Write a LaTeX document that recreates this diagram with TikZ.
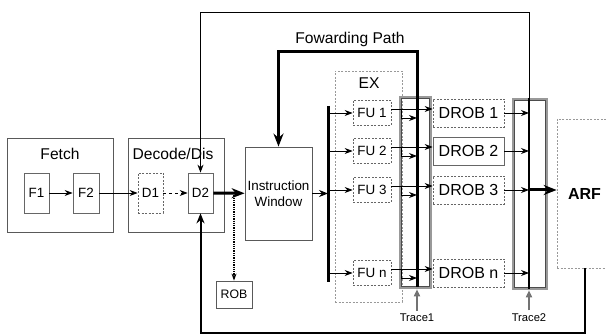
\documentclass[tikz,border=0pt]{standalone}
\usepackage{fontspec}
\setmainfont{Liberation Sans}
\usetikzlibrary{arrows.meta, positioning, calc}

\newcommand{\stagefont}{\fontsize{15.6}{18}\selectfont}
\newcommand{\unitfont}{\fontsize{13.4}{16}\selectfont}
\newcommand{\drobfont}{\fontsize{16}{18}\selectfont}
\newcommand{\robfont}{\fontsize{12.3}{14}\selectfont}
\newcommand{\tracefont}{\fontsize{11.2}{13}\selectfont}

\tikzset{
  stagebox/.style={draw=black!65, line width=0.8pt, inner sep=0pt},
  unitbox/.style={draw=black!60, line width=0.7pt, inner sep=0pt, font=\unitfont},
  dashbox/.style={unitbox, dash pattern=on 2pt off 1.5pt},
  tracebox/.style={draw=black!40, line width=2.6pt, inner sep=0pt},
  sig/.style={line width=0.9pt, -{Stealth[length=8pt,width=6pt]}},
  bigsig/.style={line width=3pt, -{Stealth[length=13pt,width=10pt]}},
  tracearrow/.style={draw=black!55, line width=1.6pt, -{Triangle[length=7pt,width=6pt]}},
}

\begin{document}
\begin{tikzpicture}[x=1pt, y=-1pt, >=Stealth]
  \useasboundingbox (0,0) rectangle (606,336);
  %% front end stages
  \node[stagebox, minimum width=106, minimum height=94] (fetch) at (60,185) {};
  \node[font=\stagefont] (fetchlbl) at (60,154) {Fetch};
  \node[stagebox, minimum width=96, minimum height=94] (decode) at (176,185) {};
  \node[font=\stagefont] (decodelbl) at (173,154) {Decode/Dis};
  \node[unitbox, minimum width=25, minimum height=40] (f1) at (36.5,193) {F1};
  \node[unitbox, minimum width=26, minimum height=40] (f2) at (86,193) {F2};
  \node[dashbox, minimum width=25, minimum height=40] (d1) at (150.5,193) {D1};
  \node[unitbox, minimum width=25, minimum height=40] (d2) at (200.5,193) {D2};
  \node[stagebox, minimum width=67, minimum height=93, align=center,
    font=\unitfont] (iw) at (278.5,193.5) {Instruction\\Window};
  \node[stagebox, font=\robfont, minimum width=36, minimum height=27] (rob)
    at (234,294.5) {ROB};
  \draw[sig] (f1) -- (f2);
  \draw[sig] (f2) -- (d1);
  \draw[sig, dashed] (d1) -- (d2);
  \draw[bigsig] (d2) -- (iw);
  \draw[densely dotted, line width=1.3pt, -{Stealth[length=7pt,width=5pt]}]
    (rob.north |- d2.east) -- (rob.north);
  %% execute stage and trace points
  \node[dashbox, draw=black!40, minimum width=67, minimum height=231] (ex)
    at (368.5,186.5) {};
  \node[font=\stagefont] (exlbl) at (369,83) {EX};
  \node[tracebox, minimum width=31, minimum height=191] (trace1) at (415.5,192.5) {};
  \draw[line width=0.6pt, black!70] ($(trace1.south west)+(3,-3)$)
    rectangle ($(trace1.north east)+(-3,3)$);
  \node[tracebox, minimum width=34, minimum height=190] (trace2) at (530,194) {};
  \draw[line width=0.6pt, black!70] ($(trace2.south west)+(3,-3)$)
    rectangle ($(trace2.north east)+(-3,3)$);
  \node[dashbox, draw=black!40, font=\drobfont\bfseries, minimum width=55,
    minimum height=149] (arf) at (584.5,193.5) {ARF};
  %% buses
  \coordinate (issuetop) at (328,106);
  \coordinate (issuebot) at (328,282);
  \coordinate (fwdtop) at (417,52);
  \coordinate (fwdbot) at (417,287);
  \coordinate (restop) at (529,12);
  \coordinate (resbot) at (529,289);
  \draw[line width=3pt] (issuetop) -- (issuebot);
  \draw[line width=1.6pt, -{Stealth[length=9pt,width=7pt]}] (iw.east) -- (iw.east -| issuetop);
  %% functional units and result buffers
  \foreach \i/\y/\st in {1/113/dashbox,2/151/unitbox,3/190/dashbox,n/273/dashbox}{
    \node[dashbox, minimum width=38, minimum height=25] (fu\i) at (372,\y) {FU \i};
    \node[\st, font=\drobfont, minimum width=71, minimum height=28] (drob\i)
      at (468.5,\y) {DROB \i};
    \draw[sig] (issuetop |- fu\i.west) -- (fu\i.west);
    \draw[sig] ($(fu\i.east)+(0,-4)$) -- ($(drob\i.west)+(0,-4)$);
    \coordinate (tap\i) at ($(trace1.west |- fu\i.east)+(3,-4)$);
    \draw[sig] (tap\i) |- ($(fwdtop |- tap\i)+(0,9)$);
    \draw[sig] (drob\i.east) -- (restop |- drob\i.east);
  }
  %% forwarding path and feedback
  \draw[bigsig] (fwdbot) -- (fwdtop) -| (iw.north);
  \node[font=\stagefont] (fwdlbl) at (350,39) {Fowarding Path};
  \draw[line width=1.2pt] (resbot) -- (restop |- trace2.north);
  \draw[sig] (restop |- trace2.north) -- (restop) -| (d2.north);
  \draw[bigsig] (restop |- drob3.east) -- (arf.west |- drob3.east);
  \draw[line width=2pt, -{Stealth[length=10pt,width=8pt]}]
    (arf.south) -- ++(0,65) -| (d2.south);
  %% trace taps
  \node[font=\tracefont] (trace1lbl) at (417,318) {Trace1};
  \node[font=\tracefont] (trace2lbl) at (529,318) {Trace2};
  \draw[tracearrow] (trace1lbl.north) -- (trace1lbl.north |- trace1.south);
  \draw[tracearrow] (trace2lbl.north) -- (trace2lbl.north |- trace2.south);
\end{tikzpicture}
\end{document}
